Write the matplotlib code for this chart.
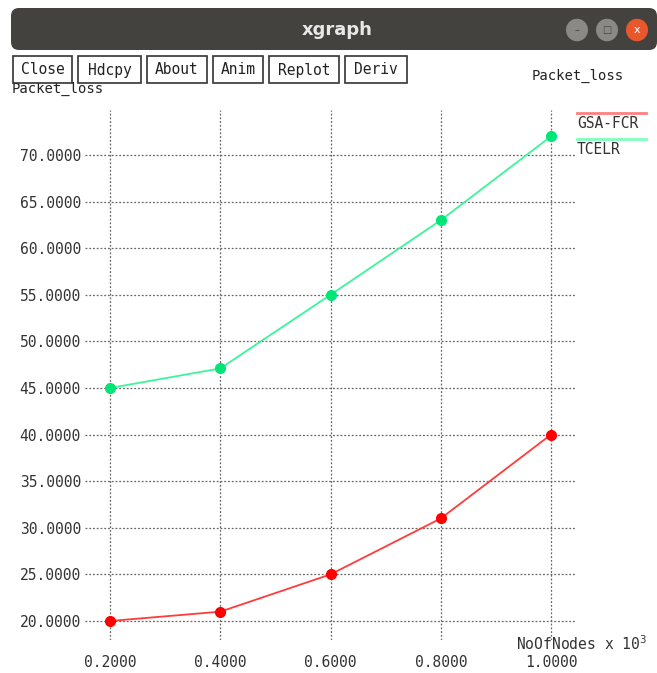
import matplotlib.pyplot as plt
from matplotlib.patches import FancyBboxPatch, Rectangle, Circle

nodes = [0.2, 0.4, 0.6, 0.8, 1.0]
gsa_fcr = [20.0, 21.0, 25.0, 31.0, 40.0]
tcelr = [45.0, 47.1, 55.0, 63.0, 72.0]
yticks = [20, 25, 30, 35, 40, 45, 50, 55, 60, 65, 70]
buttons = ['Close', 'Hdcpy', 'About', 'Anim', 'Replot', 'Deriv']

W, H = 657, 673
mono = 'DejaVu Sans Mono'
fig = plt.figure(figsize=(W / 100, H / 100), dpi=100)

def px(x, y):
    return x / W, 1 - y / H

# window title bar
bar = FancyBboxPatch(px(11, 50), 646 / W, 42 / H, boxstyle='round,pad=0,rounding_size=0.012',
                     transform=fig.transFigure, facecolor='#43423e', edgecolor='none')
fig.patches.append(bar)
fig.text(*px(337, 30), 'xgraph', color='#e8e8e8', fontsize=13, fontweight='bold',
         ha='center', va='center')
for cx, c in [(577, '#8a8985'), (607, '#8a8985'), (637, '#e8582c')]:
    fig.patches.append(Circle(px(cx, 30), 11 / W, transform=fig.transFigure,
                              facecolor=c, edgecolor='none'))
fig.text(*px(637, 30), 'x', color='#ffffff', fontsize=8, ha='center', va='center')
fig.text(*px(607, 30), '\u25a1', color='#444444', fontsize=7, ha='center', va='center')
fig.text(*px(577, 30), '\u2013', color='#444444', fontsize=7, ha='center', va='center')

# buttons
x0 = 13
widths = [59, 63, 60, 50, 70, 62]
for b, w in zip(buttons, widths):
    fig.patches.append(Rectangle(px(x0, 83), w / W, 27 / H, transform=fig.transFigure,
                                 facecolor='white', edgecolor='#333333', lw=1.2))
    fig.text(*px(x0 + w / 2, 70), b, family=mono, fontsize=10.5, color='#222222',
             ha='center', va='center')
    x0 += w + 6

fig.text(*px(578, 76), 'Packet_loss', family=mono, fontsize=10, color='#222222',
         ha='center', va='center')
fig.text(*px(12, 89), 'Packet_loss', family=mono, fontsize=10, color='#222222',
         ha='left', va='center', zorder=-1)

# plotting area
ax = fig.add_axes([85 / W, 1 - 640 / H, 490 / W, 530 / H])
ax.set_xlim(0.1546, 1.0435)
ax.set_ylim(17.96, 74.83)
ax.plot(nodes, gsa_fcr, color='#ff3b3b', lw=1.3, marker='o', ms=7,
        mfc='#ff0000', mec='#ff0000', label='GSA-FCR')
ax.plot(nodes, tcelr, color='#3cf59a', lw=1.3, marker='o', ms=7,
        mfc='#00e676', mec='#00e676', label='TCELR')
ax.set_xticks(nodes)
ax.set_xticklabels(['%.4f' % v for v in nodes])
ax.set_yticks(yticks)
ax.set_yticklabels(['%.4f' % v for v in yticks])
ax.grid(True, color='#666666', ls=(0, (1.5, 1.5)), lw=0.9)
for s in ax.spines.values():
    s.set_visible(False)
ax.tick_params(length=0, pad=3, labelsize=10.5, labelcolor='#333333')
for lab in ax.get_xticklabels() + ax.get_yticklabels():
    lab.set_family(mono)
ax.tick_params(axis='x', pad=11)

# legend in xgraph style
for y, name, col in [(113, 'GSA-FCR', '#ff8080'), (139, 'TCELR', '#80ffbf')]:
    fig.add_artist(plt.Line2D([577 / W, 646 / W], [1 - y / H] * 2, color=col, lw=2))
    fig.text(*px(577, y + 10), name, family=mono, fontsize=10.5, color='#333333',
             ha='left', va='center')

fig.text(*px(516, 644), 'NoOfNodes x 10$^3$', family=mono, fontsize=10.5, color='#333333',
         ha='left', va='center')

fig.savefig('out.png', dpi=100)
